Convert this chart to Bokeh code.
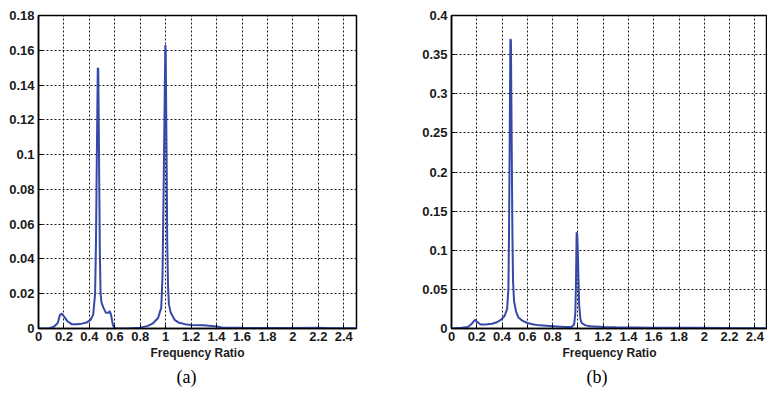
from bokeh.plotting import figure
from bokeh.layouts import row
from bokeh.models import FixedTicker, CustomJSTickFormatter, Range1d, Title
from bokeh.embed import file_html
from bokeh.resources import INLINE

# ---- data (a) ----
freq_a = [0.0, 0.08, 0.12, 0.15, 0.17, 0.185, 0.2, 0.23, 0.26, 0.3, 0.34, 0.38, 0.41, 0.43, 0.445,
          0.452, 0.458, 0.462, 0.466, 0.47, 0.474, 0.478, 0.482, 0.488, 0.495, 0.51, 0.53, 0.55,
          0.56, 0.57, 0.585, 0.6, 0.7, 0.8, 0.86, 0.9, 0.94, 0.965, 0.975, 0.982, 0.987, 0.992,
          0.997, 1.0, 1.004, 1.008, 1.012, 1.018, 1.025, 1.04, 1.07, 1.1, 1.15, 1.2, 1.3, 1.4,
          1.45, 1.6, 1.8, 2.0, 2.2, 2.3, 2.5]
amp_a = [0.0, 0.0, 0.001, 0.003, 0.008, 0.0085, 0.007, 0.004, 0.0025, 0.0025, 0.0028, 0.0035, 0.005, 0.008, 0.02,
         0.05, 0.095, 0.122, 0.15, 0.149, 0.115, 0.08, 0.045, 0.02, 0.015, 0.012, 0.009, 0.009,
         0.01, 0.008, 0.002, 0.0, 0.0, 0.0005, 0.0015, 0.003, 0.006, 0.012, 0.03, 0.07, 0.1, 0.132,
         0.163, 0.16, 0.125, 0.09, 0.05, 0.025, 0.014, 0.009, 0.005, 0.0035, 0.0025, 0.002, 0.0018, 0.0012,
         0.0005, 0.0004, 0.0003, 0.0003, 0.0004, 0.0002, 0.0002]

# ---- data (b) ----
freq_b = [0.0, 0.08, 0.13, 0.16, 0.185, 0.2, 0.23, 0.27, 0.32, 0.36, 0.39, 0.42, 0.44, 0.45,
          0.455, 0.46, 0.463, 0.466, 0.47, 0.474, 0.478, 0.482, 0.487, 0.495, 0.51, 0.53, 0.56,
          0.6, 0.65, 0.7, 0.8, 0.9, 0.95, 0.97, 0.98, 0.985, 0.99, 0.995, 1.0, 1.005, 1.01, 1.02,
          1.03, 1.06, 1.1, 1.2, 1.3, 1.6, 1.9, 2.2, 2.5]
amp_b = [0.0, 0.001, 0.002, 0.006, 0.011, 0.009, 0.005, 0.005, 0.006, 0.008, 0.011, 0.016, 0.025, 0.05,
         0.12, 0.23, 0.3, 0.37, 0.368, 0.285, 0.2, 0.12, 0.06, 0.035, 0.022, 0.014, 0.01,
         0.007, 0.005, 0.004, 0.003, 0.002, 0.002, 0.005, 0.02, 0.06, 0.123, 0.12, 0.095, 0.06, 0.03, 0.012,
         0.007, 0.004, 0.003, 0.002, 0.0015, 0.001, 0.0008, 0.0005, 0.0003]

x_ticks = [0, 0.2, 0.4, 0.6, 0.8, 1, 1.2, 1.4, 1.6, 1.8, 2, 2.2, 2.4]
y_ticks_a = [0, 0.02, 0.04, 0.06, 0.08, 0.1, 0.12, 0.14, 0.16, 0.18]
y_ticks_b = [0, 0.05, 0.1, 0.15, 0.2, 0.25, 0.3, 0.35, 0.4]

LINE = "#3449a8"
fmt_code = "return String(Number(tick.toFixed(3)));"


def make(freq, amp, yticks, ymax, caption, left_border, frame_w, right_border, cap_offset):
    p = figure(output_backend="svg", toolbar_location=None,
               frame_width=frame_w, frame_height=313,
               x_range=Range1d(0, 2.5), y_range=Range1d(0, ymax),
               min_border_left=left_border, min_border_right=right_border,
               min_border_top=15, min_border_bottom=0)
    p.background_fill_color = "white"
    p.border_fill_color = "white"
    p.outline_line_color = "black"
    p.outline_line_width = 1.5
    p.outline_line_alpha = 1.0
    p.line(freq, amp, line_color=LINE, line_width=2)

    for ax, ticks in ((p.xaxis[0], x_ticks), (p.yaxis[0], yticks)):
        ax.ticker = FixedTicker(ticks=ticks)
        ax.formatter = CustomJSTickFormatter(code=fmt_code)
        ax.major_tick_in = 4
        ax.major_tick_out = 0
        ax.minor_tick_line_color = None
        ax.axis_line_color = "black"
        ax.axis_line_width = 1.5
        ax.major_tick_line_color = "black"
        ax.major_label_text_font = "Liberation Sans"
        ax.major_label_text_font_style = "bold"
        ax.major_label_text_font_size = "13px"
        ax.major_label_text_color = "#1a1a1a"
    p.xaxis.major_label_standoff = 3
    p.yaxis.major_label_standoff = 4
    p.xaxis.axis_label = "Frequency Ratio"
    p.xaxis.axis_label_text_font = "Liberation Sans"
    p.xaxis.axis_label_text_font_style = "bold"
    p.xaxis.axis_label_text_font_size = "12px"
    p.xaxis.axis_label_text_color = "#1a1a1a"
    p.xaxis.axis_label_standoff = 2

    for g in (p.xgrid[0], p.ygrid[0]):
        g.grid_line_color = "black"
        g.grid_line_dash = "2 2"
        g.grid_line_width = 1
        g.grid_line_alpha = 0.9
    p.xgrid.ticker = FixedTicker(ticks=x_ticks)
    p.ygrid.ticker = FixedTicker(ticks=yticks)

    t = Title(text=caption, align="left", text_font="Liberation Serif",
              text_font_size="18px", text_font_style="normal", text_color="black",
              standoff=4, offset=cap_offset)
    p.add_layout(t, "below")
    return p


pa = make(freq_a, amp_a, y_ticks_a, 0.18, "(a)", 38, 318, 34, 138)
pb = make(freq_b, amp_b, y_ticks_b, 0.4, "(b)", 61, 316, 0, 135)

layout = row(pa, pb, spacing=0)
open("out.html", "w").write(file_html(layout, INLINE))
